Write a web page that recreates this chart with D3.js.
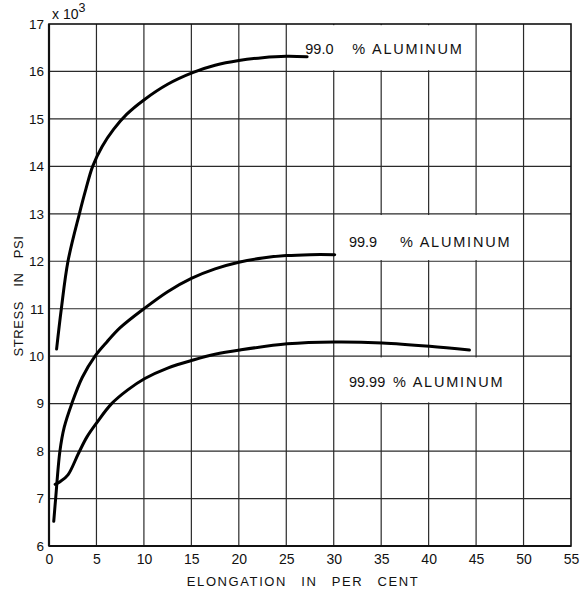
<!DOCTYPE html>
<html>
<head>
<meta charset="utf-8">
<script src="https://cdn.jsdelivr.net/npm/d3@7"></script>
<style>
  html, body { margin: 0; padding: 0; background: #fff; }
  svg { display: block; }
  text { font-family: "Liberation Sans", Arial, sans-serif; fill: #111; }
</style>
</head>
<body>
<script>
// Stress–elongation curves for three grades of aluminium
const xTicks = [0, 5, 10, 15, 20, 25, 30, 35, 40, 45, 50, 55];
const yTicks = [6, 7, 8, 9, 10, 11, 12, 13, 14, 15, 16, 17];

const al990x = [0.8, 1.3, 2.0, 3.2, 3.9, 4.6, 5.6, 6.8, 8.2, 10.0, 12.5, 15.2, 17.5, 20.0, 22.5, 25.0, 27.2];
const al990y = [10.15, 11.0, 12.0, 13.0, 13.53, 14.0, 14.42, 14.78, 15.1, 15.4, 15.73, 15.98, 16.13, 16.23, 16.29, 16.32, 16.31];

const al999x = [0.5, 0.7, 1.15, 1.6, 2.4, 3.5, 4.85, 6.1, 7.5, 10.0, 12.5, 15.0, 17.5, 20.0, 22.5, 25.0, 27.5, 30.1];
const al999y = [6.52, 7.0, 8.0, 8.5, 9.0, 9.55, 10.0, 10.3, 10.6, 11.0, 11.36, 11.64, 11.84, 11.98, 12.07, 12.12, 12.14, 12.14];

const al9999x = [0.65, 1.2, 2.0, 3.1, 4.0, 5.0, 6.6, 8.3, 10.1, 12.5, 15.2, 17.5, 20.1, 25.1, 30.1, 35.1, 40.1, 44.3];
const al9999y = [7.3, 7.36, 7.5, 7.95, 8.3, 8.59, 9.0, 9.29, 9.53, 9.75, 9.92, 10.04, 10.13, 10.26, 10.3, 10.28, 10.21, 10.13];

const seriesNames = ["99.0", "99.9", "99.99"];
// label anchor in data units and the grid cells each label's white panel covers
const labelX = [27.0, 31.6, 31.6];
const labelY = [16.37, 12.3, 9.35];
const boxX = [[25, 45], [30, 50], [30, 50]];
const boxY = [[16, 17], [12, 13], [9, 10]];
const pctOffset = [47, 51, 44];

const W = 581, H = 591;
const m = { left: 49, right: 10, top: 24, bottom: 45 };

const svg = d3.select("body").append("svg").attr("width", W).attr("height", H);

const x = d3.scaleLinear().domain([0, 55]).range([m.left, W - m.right]);
const y = d3.scaleLinear().domain([6, 17]).range([H - m.bottom, m.top]);

// grid
const grid = svg.append("g").attr("stroke", "#2a2a2a").attr("stroke-width", 1.2);
grid.selectAll("line.v").data(xTicks.slice(1, -1)).join("line")
  .attr("x1", d => x(d)).attr("x2", d => x(d))
  .attr("y1", y(6)).attr("y2", y(17));
grid.selectAll("line.h").data(yTicks.slice(1, -1)).join("line")
  .attr("x1", x(0)).attr("x2", x(55))
  .attr("y1", d => y(d)).attr("y2", d => y(d));

// white label panels over the grid
svg.append("g").selectAll("rect").data(boxX).join("rect")
  .attr("x", d => x(d[0]) + 1.2)
  .attr("width", d => x(d[1]) - x(d[0]) - 2.4)
  .attr("y", (d, i) => y(boxY[i][1]) + 1.2)
  .attr("height", (d, i) => y(boxY[i][0]) - y(boxY[i][1]) - 2.4)
  .attr("fill", "#fff");

// frame
svg.append("rect")
  .attr("x", x(0)).attr("y", y(17))
  .attr("width", x(55) - x(0)).attr("height", y(6) - y(17))
  .attr("fill", "none").attr("stroke", "#111").attr("stroke-width", 1.6);
svg.append("line").attr("x1", x(0)).attr("x2", x(0)).attr("y1", y(17)).attr("y2", y(6))
  .attr("stroke", "#111").attr("stroke-width", 2.2);
svg.append("line").attr("x1", x(0)).attr("x2", x(55)).attr("y1", y(6)).attr("y2", y(6))
  .attr("stroke", "#111").attr("stroke-width", 2.2);

// axes (labels only)
const xAxis = d3.axisBottom(x).tickValues(xTicks).tickSize(0).tickPadding(8);
const gx = svg.append("g").attr("transform", `translate(0,${y(6)})`).call(xAxis);
gx.select(".domain").remove();
gx.selectAll("text").attr("font-size", 14).attr("font-family", "Liberation Sans, Arial, sans-serif").attr("fill", "#111");

const yAxis = d3.axisLeft(y).tickValues(yTicks).tickSize(0).tickPadding(5);
const gy = svg.append("g").attr("transform", `translate(${x(0)},0)`).call(yAxis);
gy.select(".domain").remove();
gy.selectAll("text").attr("font-size", 13.5).attr("font-family", "Liberation Sans, Arial, sans-serif").attr("fill", "#111");

// multiplier
const mult = svg.append("text").attr("x", x(0) + 3).attr("y", 19).attr("font-size", 14);
mult.append("tspan").text("x 10");
mult.append("tspan").attr("dy", -7).attr("font-size", 12.5).text("3");

// axis titles
svg.append("text")
  .attr("x", 303).attr("y", 586)
  .attr("text-anchor", "middle").attr("font-size", 13)
  .attr("letter-spacing", 1.6).attr("word-spacing", 9)
  .text("ELONGATION IN PER CENT");
svg.append("text")
  .attr("transform", `translate(23,296) rotate(-90)`)
  .attr("text-anchor", "middle").attr("font-size", 13)
  .attr("letter-spacing", 0.6).attr("word-spacing", 10)
  .text("STRESS IN PSI");

// curves
const line = d3.line().x(d => x(d[0])).y(d => y(d[1])).curve(d3.curveCatmullRom.alpha(0.5));
const series = [
  d3.zip(al990x, al990y),
  d3.zip(al999x, al999y),
  d3.zip(al9999x, al9999y)
];
svg.append("g").selectAll("path").data(series).join("path")
  .attr("d", line)
  .attr("fill", "none").attr("stroke", "#000")
  .attr("stroke-width", 3).attr("stroke-linecap", "round").attr("stroke-linejoin", "round");

// curve labels
const labels = svg.append("g").selectAll("text").data(seriesNames).join("text")
  .attr("x", (d, i) => x(labelX[i]))
  .attr("y", (d, i) => y(labelY[i]))
  .attr("font-size", 14.5);
labels.append("tspan").text(d => d);
labels.append("tspan")
  .attr("x", (d, i) => x(labelX[i]) + pctOffset[i])
  .attr("letter-spacing", 1.8)
  .text("% ALUMINUM");
</script>
</body>
</html>
